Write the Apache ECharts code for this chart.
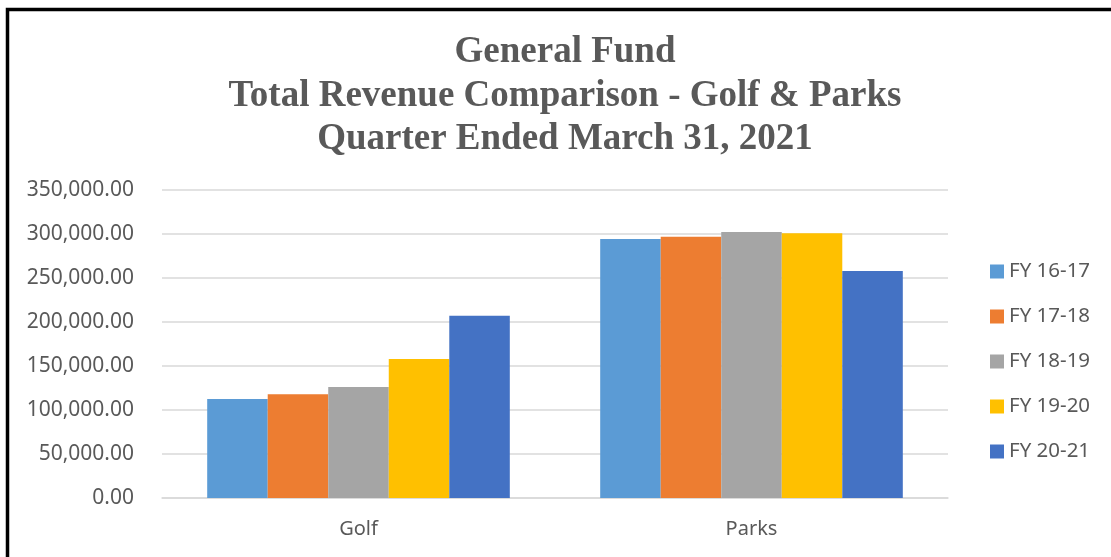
<!DOCTYPE html>
<html>
<head>
<meta charset="utf-8">
<script src="https://cdn.jsdelivr.net/npm/echarts@6/dist/echarts.min.js"></script>
<style>
html,body{margin:0;padding:0;background:#fff;}
#chart{width:1111px;height:557px;}
</style>
</head>
<body>
<div id="chart"></div>
<script>
const titleLines = ['General Fund', 'Total Revenue Comparison - Golf & Parks', 'Quarter Ended March 31, 2021'];
const categories = ['Golf', 'Parks'];
const seriesNames = ['FY 16-17', 'FY 17-18', 'FY 18-19', 'FY 19-20', 'FY 20-21'];
const fy1617 = [112500, 294300];
const fy1718 = [117800, 297000];
const fy1819 = [126100, 302300];
const fy1920 = [158000, 300800];
const fy2021 = [207200, 258000];
const seriesValues = [fy1617, fy1718, fy1819, fy1920, fy2021];
const colors = ['#5B9BD5', '#ED7D31', '#A5A5A5', '#FFC000', '#4472C4'];
const yMin = 0, yMax = 350000, yStep = 50000;

const chart = echarts.init(document.getElementById('chart'), null, {renderer: 'canvas'});
const fmt = v => v.toLocaleString('en-US', {minimumFractionDigits: 2, maximumFractionDigits: 2});

chart.setOption({
  animation: false,
  backgroundColor: '#ffffff',
  color: colors,
  title: {
    text: titleLines.join('\n'),
    left: 560,
    top: 26,
    textAlign: 'center',
    textStyle: {
      fontFamily: 'Liberation Serif',
      fontWeight: 'bold',
      fontSize: 37,
      lineHeight: 43.5,
      color: '#595959'
    }
  },
  graphic: [{
    type: 'polyline',
    shape: {points: [[7.5, 557], [7.5, 9.5], [1111, 9.5]]},
    style: {stroke: '#000', lineWidth: 3.5, fill: null}
  }],
  legend: {
    orient: 'vertical',
    left: 985,
    top: 256,
    itemWidth: 14,
    itemHeight: 14,
    itemGap: 24,
    icon: 'rect',
    textStyle: {fontFamily: 'Noto Sans', fontSize: 20.5, lineHeight: 20, color: '#595959'},
    data: seriesNames
  },
  grid: {left: 162, right: 163, top: 190, bottom: 59, containLabel: false},
  xAxis: {
    type: 'category',
    data: categories,
    axisLine: {show: true, lineStyle: {color: '#d9d9d9', width: 1.5}},
    axisTick: {show: false},
    axisLabel: {fontFamily: 'Noto Sans', fontSize: 20, color: '#595959', margin: 21}
  },
  yAxis: {
    type: 'value',
    min: yMin,
    max: yMax,
    interval: yStep,
    axisLine: {show: false},
    axisTick: {show: false},
    splitLine: {lineStyle: {color: '#d9d9d9', width: 1.5}},
    axisLabel: {fontFamily: 'Noto Sans', fontSize: 21, color: '#595959', margin: 28, formatter: fmt}
  },
  series: seriesNames.map((name, i) => ({
    name: name,
    type: 'bar',
    data: seriesValues[i],
    barGap: '0%',
    barCategoryGap: '23%',
    itemStyle: {color: colors[i]}
  }))
});
</script>
</body>
</html>
